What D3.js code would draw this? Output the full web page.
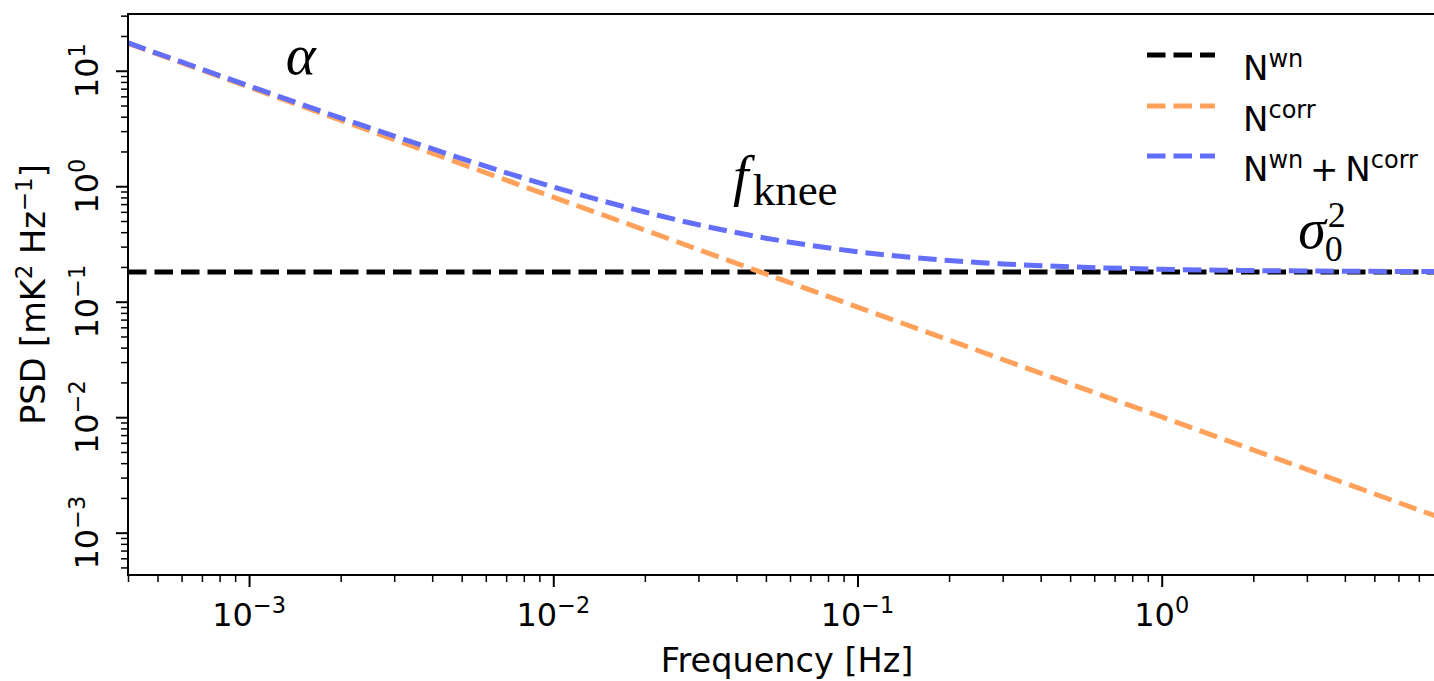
<!DOCTYPE html>
<html><head><meta charset="utf-8">
<script src="https://cdn.jsdelivr.net/npm/d3@7"></script>
<style>body{margin:0;background:#fff}svg{display:block}</style>
</head><body><svg id="chart" width="1434" height="681"></svg>
<script>
// ---- data ----
const frequencies     = [4e-4, 1e-3, 3e-3, 1e-2, 2e-2, 3e-2, 5e-2, 1e-1, 2e-1, 3e-1, 5e-1, 1, 3, 8];
const whiteNoise      = [0.181, 0.181, 0.181, 0.181, 0.181, 0.181, 0.181, 0.181, 0.181, 0.181, 0.181, 0.181, 0.181, 0.181];
const correlatedNoise = [17.26, 7.21, 2.535, 0.805, 0.417, 0.283, 0.174, 0.0899, 0.0465, 0.0316, 0.01945, 0.01005, 0.00353, 0.001387];
const totalNoise      = [17.44, 7.39, 2.716, 0.986, 0.598, 0.464, 0.355, 0.271, 0.2275, 0.2126, 0.2005, 0.191, 0.1845, 0.1824];

const xMajorTicks = [1e-3, 1e-2, 1e-1, 1];
const xTickExponents = ["\u22123", "\u22122", "\u22121", "0"];
const yMajorTicks = [10, 1, 0.1, 0.01, 0.001];
const yTickExponents = ["1", "0", "\u22121", "\u22122", "\u22123"];

const seriesNames = ["wn", "corr", "sum"];
const seriesColors = ["#000000", "#FFA15A", "#636EFA"];

const annotationLabels = ["alpha", "fknee", "sigma"];
const annotationFreq = [1.32e-3, 0.039, 2.81];
const annotationPsd  = [9.36, 0.847, 0.292];

// ---- layout ----
const svg = d3.select("#chart");
const L = 128, R = 1446, T = 14, B = 575;
const x = d3.scaleLog().domain([4e-4, 8.6]).range([L, R]);
const y = d3.scaleLog().domain([4.3e-4, 31]).range([B, T]);
const sansFont = "DejaVu Sans, sans-serif";
const serifFont = "Liberation Serif, DejaVu Serif, serif";

svg.append("defs").append("clipPath").attr("id", "plotClip")
  .append("rect").attr("x", L).attr("y", T).attr("width", R - L).attr("height", B - T);

// ---- lines ----
const seriesValues = [whiteNoise, correlatedNoise, totalNoise];
const line = d3.line().x(d => x(d[0])).y(d => y(d[1])).curve(d3.curveMonotoneX);
const plotG = svg.append("g").attr("clip-path", "url(#plotClip)");
seriesValues.forEach((vals, i) => {
  plotG.append("path")
    .datum(frequencies.map((f, k) => [f, vals[k]]))
    .attr("d", line)
    .attr("fill", "none")
    .attr("stroke", seriesColors[i])
    .attr("stroke-width", 5)
    .attr("stroke-dasharray", "18.5,8");
});

// ---- axes ----
const xMinor = x.ticks().filter(v => !xMajorTicks.some(m => Math.abs(m - v) / m < 1e-6));
const yMinor = y.ticks().filter(v => !yMajorTicks.some(m => Math.abs(m - v) / m < 1e-6));

const xAxisMajor = svg.append("g").attr("transform", `translate(0,${B})`)
  .call(d3.axisBottom(x).tickValues(xMajorTicks).tickSize(12).tickFormat(() => ""));
const xAxisMinor = svg.append("g").attr("transform", `translate(0,${B})`)
  .call(d3.axisBottom(x).tickValues(xMinor).tickSize(7).tickFormat(() => ""));
const yAxisMajor = svg.append("g").attr("transform", `translate(${L},0)`)
  .call(d3.axisLeft(y).tickValues(yMajorTicks).tickSize(12).tickFormat(() => ""));
const yAxisMinor = svg.append("g").attr("transform", `translate(${L},0)`)
  .call(d3.axisLeft(y).tickValues(yMinor).tickSize(7).tickFormat(() => ""));
[xAxisMajor, xAxisMinor, yAxisMajor, yAxisMinor].forEach(g => g.select(".domain").remove());
xAxisMajor.selectAll("line").attr("stroke", "#000").attr("stroke-width", 2);
yAxisMajor.selectAll("line").attr("stroke", "#000").attr("stroke-width", 2);
xAxisMinor.selectAll("line").attr("stroke", "#000").attr("stroke-width", 1.5);
yAxisMinor.selectAll("line").attr("stroke", "#000").attr("stroke-width", 1.5);

// spines
svg.append("line").attr("x1", L).attr("x2", L).attr("y1", T - 1).attr("y2", B + 1).attr("stroke", "#000").attr("stroke-width", 2);
svg.append("line").attr("x1", L - 1).attr("x2", R).attr("y1", B).attr("y2", B).attr("stroke", "#000").attr("stroke-width", 2);
svg.append("line").attr("x1", L - 1).attr("x2", R).attr("y1", T).attr("y2", T).attr("stroke", "#000").attr("stroke-width", 2);

// tick labels
function powerLabel(sel, exp, size) {
  sel.append("tspan").text("10");
  sel.append("tspan").attr("dy", -13).attr("font-size", size * 0.7).text(exp);
}
xMajorTicks.forEach((v, i) => {
  const t = svg.append("text").attr("x", x(v)).attr("y", 626)
    .attr("text-anchor", "middle").attr("font-family", sansFont).attr("font-size", 32).attr("fill", "#000");
  powerLabel(t, xTickExponents[i], 32);
});
yMajorTicks.forEach((v, i) => {
  const t = svg.append("text").attr("transform", `translate(98,${y(v)}) rotate(-90)`)
    .attr("text-anchor", "middle").attr("font-family", sansFont).attr("font-size", 32).attr("fill", "#000");
  powerLabel(t, yTickExponents[i], 32);
});

// axis titles
svg.append("text").attr("x", (L + R) / 2).attr("y", 672).attr("text-anchor", "middle")
  .attr("font-family", sansFont).attr("font-size", 33.5).attr("fill", "#000").text("Frequency [Hz]");
const yl = svg.append("text").attr("transform", `translate(45,${(T + B) / 2}) rotate(-90)`)
  .attr("text-anchor", "middle").attr("font-family", sansFont).attr("font-size", 33.5).attr("fill", "#000");
yl.append("tspan").text("PSD [mK");
yl.append("tspan").attr("dy", -13).attr("font-size", 23).text("2");
yl.append("tspan").attr("dy", 13).text(" Hz");
yl.append("tspan").attr("dy", -13).attr("font-size", 23).text("\u22121");
yl.append("tspan").attr("dy", 13).text("]");

// ---- legend ----
const legendRows = [55, 106, 156];
seriesNames.forEach((name, i) => {
  const ly = legendRows[i];
  svg.append("line").attr("x1", 1147).attr("x2", 1215).attr("y1", ly).attr("y2", ly)
    .attr("stroke", seriesColors[i]).attr("stroke-width", 5).attr("stroke-dasharray", "18.5,8");
  const t = svg.append("text").attr("x", 1243).attr("y", ly + 12)
    .attr("font-family", sansFont).attr("font-size", 34).attr("fill", "#000");
  const parts = name === "wn" ? [["N", "wn"]] : name === "corr" ? [["N", "corr"]] : [["N", "wn"], ["\u2009+\u2009N", "corr"]];
  parts.forEach(p => {
    t.append("tspan").attr("dy", t.selectAll("tspan").size() ? 13 : 0).text(p[0]);
    t.append("tspan").attr("dy", -13).attr("font-size", 24).text(p[1]);
  });
});

// ---- annotations ----
annotationLabels.forEach((lab, i) => {
  const ax = x(annotationFreq[i]), ay = y(annotationPsd[i]);
  const g = svg.append("g").attr("font-family", serifFont).attr("fill", "#000");
  if (lab === "alpha") {
    g.append("text").attr("x", ax).attr("y", ay).attr("font-size", 57).attr("font-style", "italic").text("\u03b1");
  } else if (lab === "fknee") {
    const t = g.append("text").attr("x", ax).attr("y", ay).attr("font-size", 56);
    t.append("tspan").attr("font-style", "italic").text("f");
    t.append("tspan").attr("dy", 10.5).attr("dx", 4).attr("font-size", 45).text("knee");
  } else {
    const t = g.append("text").attr("x", ax).attr("y", ay).attr("font-size", 56);
    t.append("tspan").attr("font-style", "italic").text("\u03c3");
    t.append("tspan").attr("dy", 13).attr("dx", -1).attr("font-size", 36).text("0");
    t.append("tspan").attr("dy", -34).attr("dx", -15).attr("font-size", 36).text("2");
  }
});
</script></body></html>
